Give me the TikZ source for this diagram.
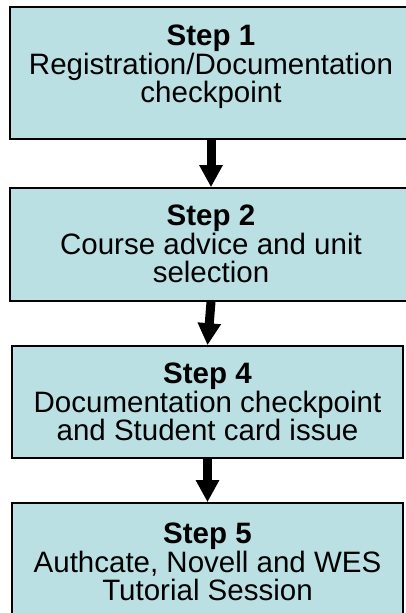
\documentclass[tikz,border=0pt]{standalone}
\usepackage{fontspec}
\setmainfont{Liberation Sans}
\usetikzlibrary{arrows.meta}
\definecolor{boxfill}{RGB}{187,224,227}
\begin{document}
\begin{tikzpicture}[x=1pt,y=1pt,
  stepbox/.style={draw=black, line width=1.6pt, fill=boxfill, rectangle, inner sep=0pt},
  steptext/.style={anchor=north, align=center, inner sep=0pt, font=\fontsize{29.5}{28.5}\selectfont},
  flow/.style={line width=9pt, -{Triangle[width=22pt,length=22pt]}}]
\useasboundingbox (0,0) rectangle (406,-613);
\node[stepbox, minimum width=402pt, minimum height=132pt] (b1) at (211,-73) {};
\node[stepbox, minimum width=402pt, minimum height=113pt] (b2) at (211,-244.5) {};
\node[stepbox, minimum width=391pt, minimum height=112pt] (b3) at (207.5,-402) {};
\node[stepbox, minimum width=391pt, minimum height=114pt] (b4) at (207.5,-560) {};
\node[steptext] (t1) at (211,-25) {\textbf{Step 1}\\Registration/Documentation\\checkpoint};
\node[steptext] (t2) at (211,-205) {\textbf{Step 2}\\Course advice and unit\\selection};
\node[steptext] (t3) at (207.5,-363) {\textbf{Step 4}\\Documentation checkpoint\\and Student card issue};
\node[steptext] (t4) at (207.5,-523) {\textbf{Step 5}\\Authcate, Novell and WES\\Tutorial Session};
\draw[flow] (b1.south) -- (b2.north);
\draw[flow] (b2.south) -- (b3.north);
\draw[flow] (b3.south) -- (b4.north);
\end{tikzpicture}
\end{document}
